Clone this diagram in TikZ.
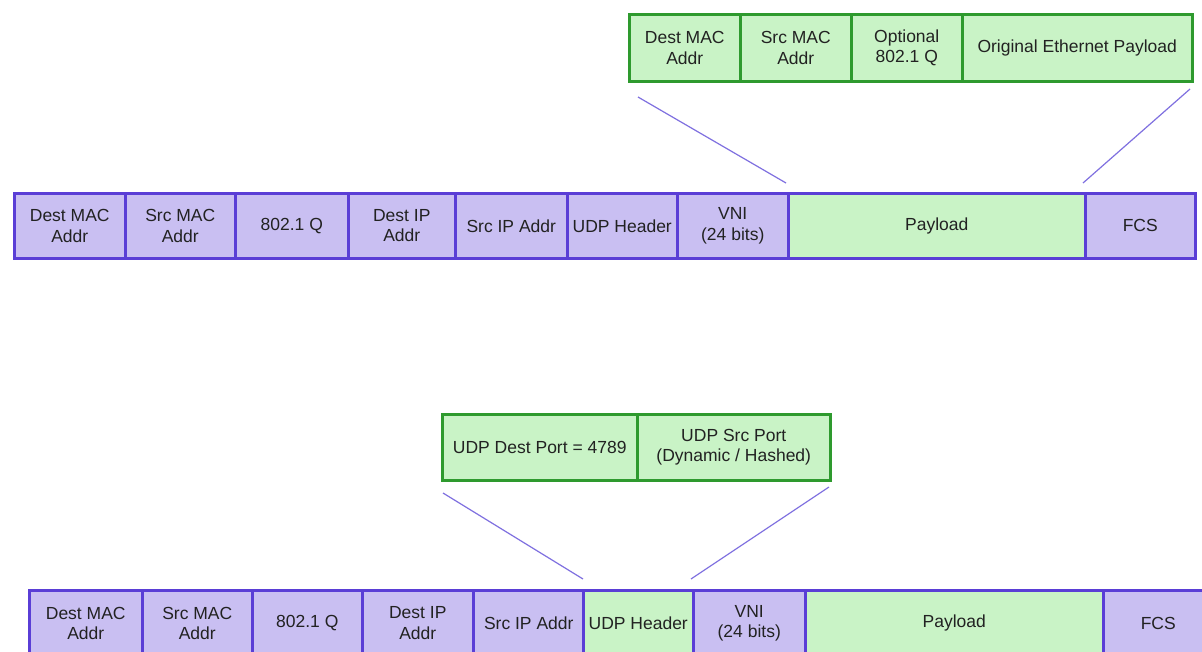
\documentclass[tikz,border=0pt]{standalone}
\usepackage{fontspec}
\setmainfont{Liberation Sans}
\definecolor{pfill}{HTML}{C9BFF2}
\definecolor{pline}{HTML}{5A3ED6}
\definecolor{gfill}{HTML}{C9F3C6}
\definecolor{gline}{HTML}{2E9A2E}
\definecolor{connc}{HTML}{7F70E0}
\definecolor{txt}{HTML}{222222}
\tikzset{
  cellbase/.style={anchor=north west, inner sep=0pt, align=center, text=txt,
    font=\fontsize{17.5}{20.5}\selectfont, line width=2.5pt},
  pcell/.style={cellbase, fill=pfill, draw=pline},
  ppay/.style={cellbase, fill=gfill, draw=pline},
  gcell/.style={cellbase, fill=gfill, draw=gline},
  conn/.style={draw=connc, line width=1.2pt}
}
\begin{document}
\begin{tikzpicture}[x=1pt,y=-1pt]
\fill[white] (0,0) rectangle (1202,651);
\useasboundingbox (0,0) rectangle (1202,651);

% ---- top green box
\node[gcell, minimum width=111pt, minimum height=67pt] (t1) at (628,13) {Dest MAC\\Addr};
\node[gcell, minimum width=111pt, minimum height=67pt] (t2) at (739,13) {Src MAC\\Addr};
\node[gcell, minimum width=111pt, minimum height=67pt] (t3) at (850,13) {Optional\\802.1 Q};
\node[gcell, minimum width=230pt, minimum height=67pt] (t4) at (961,13) {Original Ethernet Payload};

% ---- row 1
\node[pcell, minimum width=111pt, minimum height=65pt] (a1) at (13,192) {Dest MAC\\Addr};
\node[pcell, minimum width=110pt, minimum height=65pt] (a2) at (124,192) {Src MAC\\Addr};
\node[pcell, minimum width=113pt, minimum height=65pt] (a3) at (234,192) {802.1 Q};
\node[pcell, minimum width=107pt, minimum height=65pt] (a4) at (347,192) {Dest IP\\Addr};
\node[pcell, minimum width=112pt, minimum height=65pt] (a5) at (454,192) {Src IP Addr};
\node[pcell, minimum width=110pt, minimum height=65pt] (a6) at (566,192) {UDP Header};
\node[pcell, minimum width=111pt, minimum height=65pt] (a7) at (676,192) {VNI\\(24 bits)};
\node[ppay, minimum width=297pt, minimum height=65pt] (a8) at (787,192) {Payload};
\node[pcell, minimum width=110pt, minimum height=65pt] (a9) at (1084,192) {FCS};

\coordinate (c1a) at (638,97);
\coordinate (c1b) at (786,183);
\coordinate (c2a) at (1190,89);
\coordinate (c2b) at (1083,183);
\draw[conn] (c1a) -- (c1b);
\draw[conn] (c2a) -- (c2b);

% ---- second green box
\node[gcell, minimum width=195pt, minimum height=66pt] (u1) at (441,413) {UDP Dest Port = 4789};
\node[gcell, minimum width=193pt, minimum height=66pt] (u2) at (636,413) {UDP Src Port\\(Dynamic / Hashed)};

% ---- row 2
\node[pcell, minimum width=113pt, minimum height=66pt] (b1) at (28,589) {Dest MAC\\Addr};
\node[pcell, minimum width=110pt, minimum height=66pt] (b2) at (141,589) {Src MAC\\Addr};
\node[pcell, minimum width=110pt, minimum height=66pt] (b3) at (251,589) {802.1 Q};
\node[pcell, minimum width=111pt, minimum height=66pt] (b4) at (361,589) {Dest IP\\Addr};
\node[pcell, minimum width=111pt, minimum height=66pt] (b5) at (472,589) {Src IP Addr};
\node[ppay, minimum width=110pt, minimum height=66pt] (b6) at (582,589) {UDP Header};
\node[pcell, minimum width=112pt, minimum height=66pt] (b7) at (692,589) {VNI\\(24 bits)};
\node[ppay, minimum width=298pt, minimum height=66pt] (b8) at (804,589) {Payload};
\node[pcell, minimum width=110pt, minimum height=66pt] (b9) at (1102,589) {FCS};

\coordinate (d1a) at (443,493);
\coordinate (d1b) at (583,579);
\coordinate (d2a) at (829,487);
\coordinate (d2b) at (691,579);
\draw[conn] (d1a) -- (d1b);
\draw[conn] (d2a) -- (d2b);
\end{tikzpicture}
\end{document}
